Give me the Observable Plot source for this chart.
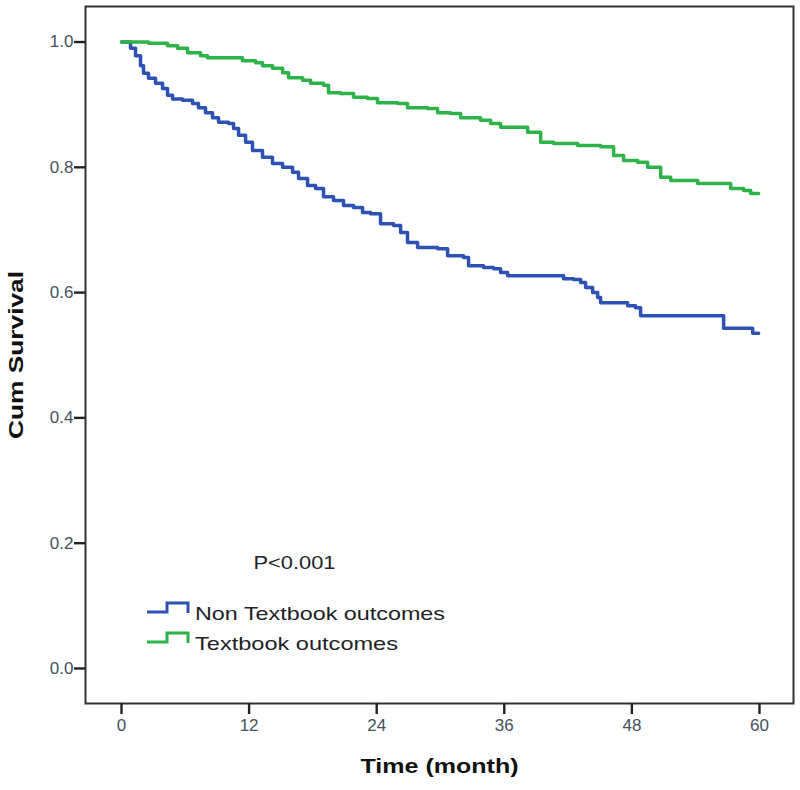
<!DOCTYPE html>
<html>
<head>
<meta charset="utf-8">
<script src="https://cdn.jsdelivr.net/npm/d3@7"></script>
<script src="https://cdn.jsdelivr.net/npm/@observablehq/plot@0.6"></script>
<style>
  html, body { margin: 0; padding: 0; background: #fff; }
  #chart svg { display: block; }
  #chart [aria-label="x-axis tick label"] text,
  #chart [aria-label="y-axis tick label"] text { fill: #46525c; font-size: 17px; }
  #chart [aria-label="x-axis tick"] path,
  #chart [aria-label="y-axis tick"] path,
  #chart [aria-label="x-axis tick"],
  #chart [aria-label="y-axis tick"] { stroke: #222; stroke-width: 2.4px; }
</style>
</head>
<body>
<div id="chart"></div>
<script>
// ---- data ----
const timeTicks = [0, 12, 24, 36, 48, 60];
const survTicks = [0, 0.2, 0.4, 0.6, 0.8, 1.0];
const seriesNames = ["Non Textbook outcomes", "Textbook outcomes"];
const seriesColors = ["#2e52b4", "#2db347"];
const pValueText = "P<0.001";
const xTitle = "Time (month)";
const yTitle = "Cum Survival";

const nonTextbookTime = [0, 0.85, 1.32, 1.79, 2.07, 2.54, 3.20, 3.86, 4.33, 4.80, 5.74, 6.68, 7.24, 7.90, 8.56, 9.13, 10.07, 10.54, 11.01, 11.67, 12.32, 13.26, 14.20, 15.15, 16.09, 16.65, 17.50, 18.25, 19.00, 19.94, 20.88, 21.82, 22.67, 23.42, 24.36, 25.59, 26.25, 26.90, 27.85, 29.73, 30.67, 32.17, 32.64, 34.05, 35.00, 35.65, 36.31, 41.58, 42.52, 43.18, 43.65, 44.31, 44.78, 45.06, 47.60, 48.35, 48.82, 56.63, 59.36, 59.92];
const nonTextbookSurv = [1.000, 0.990, 0.978, 0.962, 0.950, 0.942, 0.934, 0.926, 0.915, 0.909, 0.907, 0.902, 0.895, 0.887, 0.879, 0.872, 0.870, 0.862, 0.851, 0.840, 0.827, 0.816, 0.806, 0.800, 0.792, 0.782, 0.771, 0.766, 0.753, 0.747, 0.739, 0.736, 0.728, 0.726, 0.710, 0.707, 0.696, 0.680, 0.672, 0.670, 0.659, 0.656, 0.643, 0.640, 0.638, 0.632, 0.627, 0.622, 0.621, 0.616, 0.608, 0.600, 0.592, 0.584, 0.579, 0.576, 0.563, 0.543, 0.535, 0.535];

const textbookTime = [0, 2.54, 4.33, 5.27, 6.21, 7.43, 8.09, 11.38, 12.61, 13.26, 14.20, 15.15, 15.71, 17.03, 17.78, 19.00, 19.47, 20.60, 21.82, 23.14, 24.08, 25.96, 26.90, 28.79, 29.73, 30.95, 31.89, 33.77, 34.71, 35.65, 38.19, 39.42, 40.64, 42.90, 45.06, 46.28, 47.22, 48.54, 49.48, 50.71, 51.65, 54.19, 57.29, 58.51, 59.17, 59.92];
const textbookSurv = [1.000, 0.998, 0.994, 0.990, 0.983, 0.978, 0.975, 0.970, 0.967, 0.962, 0.958, 0.951, 0.943, 0.939, 0.934, 0.931, 0.919, 0.918, 0.912, 0.910, 0.903, 0.902, 0.895, 0.894, 0.887, 0.886, 0.879, 0.875, 0.870, 0.864, 0.856, 0.840, 0.838, 0.835, 0.833, 0.819, 0.811, 0.808, 0.800, 0.784, 0.779, 0.774, 0.766, 0.763, 0.758, 0.758];

// ---- table built from the arrays ----
const rows = [
  ...nonTextbookTime.map((t, i) => ({time: t, surv: nonTextbookSurv[i], group: seriesNames[0]})),
  ...textbookTime.map((t, i) => ({time: t, surv: textbookSurv[i], group: seriesNames[1]}))
];

const font = "Arial, 'Liberation Sans', sans-serif";
// rendered text widths (styling: the reference font is wider than Arial)
const textWidths = {
  [seriesNames[0]]: 250, [seriesNames[1]]: 203,
  [pValueText]: 82, [xTitle]: 158, [yTitle]: 168
};

const legendMark = (index, scales, values, dimensions) => {
  const {marginLeft, height, marginBottom} = dimensions;
  const x0 = marginLeft + 62;
  const y0 = height - marginBottom - 91;
  const g = d3.create("svg:g");
  seriesNames.forEach((name, i) => {
    const y = y0 + i * 30;
    g.append("path")
      .attr("d", `M${x0},${y}h20v-9h21v10`)
      .attr("fill", "none")
      .attr("stroke", seriesColors[i])
      .attr("stroke-width", 3);
    g.append("text")
      .attr("x", x0 + 48)
      .attr("y", y + 1)
      .attr("text-anchor", "start")
      .attr("dominant-baseline", "central")
      .attr("font-family", font)
      .attr("font-size", 19)
      .attr("fill", "#1e2326")
      .text(name);
  });
  return g.node();
};

const chart = Plot.plot({
  width: 800,
  height: 790,
  marginLeft: 85,
  marginRight: 7,
  marginTop: 6,
  marginBottom: 87,
  style: {fontFamily: font, background: "#fff"},
  x: {domain: [-3.386, 63.2]},
  y: {domain: [-0.0559, 1.0567]},
  color: {domain: seriesNames, range: seriesColors},
  marks: [
    Plot.frame({stroke: "#333", strokeWidth: 2}),
    Plot.axisX({ticks: timeTicks, tickSize: 11, tickPadding: 4, fontSize: 17, stroke: "#222", strokeWidth: 2.4, label: null}),
    Plot.axisY({ticks: survTicks, tickFormat: d3.format(".1f"), tickSize: 11, tickPadding: 1, fontSize: 17, stroke: "#222", strokeWidth: 2.4, label: null}),
    Plot.line(rows, {x: "time", y: "surv", z: "group", stroke: "group", strokeWidth: 3.5, curve: "step-after"}),
    Plot.text([pValueText], {frameAnchor: "bottom-left", dx: 209, dy: -135, fontSize: 19, fill: "#1e2326", textAnchor: "middle"}),
    Plot.text([xTitle], {frameAnchor: "bottom", dy: 69, fontSize: 21, fontWeight: "bold", fill: "#111", textAnchor: "middle"}),
    Plot.text([yTitle], {frameAnchor: "left", dx: -69, rotate: -90, fontSize: 21, fontWeight: "bold", fill: "#111", textAnchor: "middle"}),
    legendMark
  ]
});

d3.select(chart).selectAll("text").each(function () {
  const w = textWidths[this.textContent];
  if (w) {
    this.setAttribute("textLength", w);
    this.setAttribute("lengthAdjust", "spacingAndGlyphs");
  }
});

document.getElementById("chart").appendChild(chart);
</script>
</body>
</html>
